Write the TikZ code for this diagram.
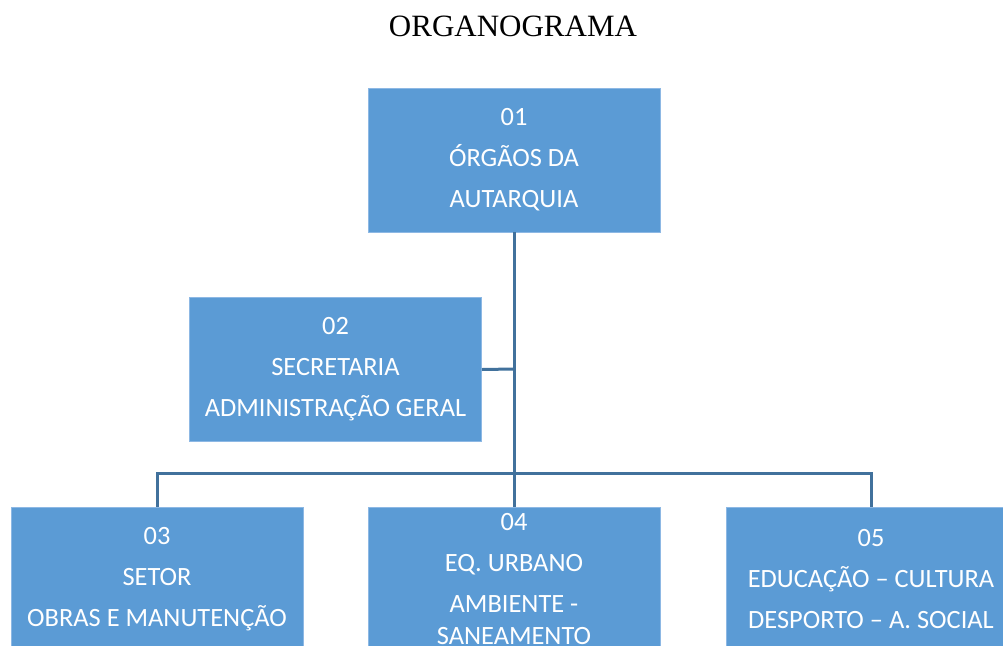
\documentclass[tikz,border=0pt]{standalone}
\usepackage{fontspec}
\setmainfont{Carlito}
\newfontfamily\titlefont{Liberation Serif}
\begin{document}
\begin{tikzpicture}[x=1pt,y=-1pt,
  box/.style={rectangle, fill=boxblue, draw=boxedge, line width=0.8pt,
    minimum width=292pt, minimum height=144pt, inner sep=0pt,
    text=white, align=center, font=\fontsize{26.4}{41}\selectfont},
  link/.style={draw=linkblue, line width=3pt}]
\definecolor{boxblue}{HTML}{5B9BD5}
\definecolor{boxedge}{HTML}{8DB8E4}
\definecolor{linkblue}{HTML}{41719C}
\useasboundingbox (0,0) rectangle (1003,645);
\clip (0,0) rectangle (1003,645);
% title
\node[font=\titlefont\fontsize{31}{31}\selectfont] (title) at (513,26) {ORGANOGRAMA};
% boxes
\node[box] (b1) at (514,160) {01\\ÓRGÃOS DA\\AUTARQUIA};
\node[box] (b2) at (335.5,369.5) {02\\SECRETARIA\\ADMINISTRAÇÃO GERAL};
\node[box] (b3) at (157,579) {03\\SETOR\\OBRAS E MANUTENÇÃO};
\node[box] (b4) at (514,579) {04\\EQ. URBANO\\AMBIENTE -\\[-9pt]SANEAMENTO};
\node[box, minimum width=290pt] (b5) at (871,579) {05\\EDUCAÇÃO – CULTURA\\DESPORTO – A. SOCIAL};
% connectors
\coordinate (bus) at (514,473);
\coordinate (junc) at (514,369);
\draw[link] (b1.south) -- (bus) -- (b4.north);
\draw[link] (b2.east) -- (junc);
\draw[link] (b3.north) -- (b3.north |- bus) -- (b5.north |- bus) -- (b5.north);
\end{tikzpicture}
\end{document}
